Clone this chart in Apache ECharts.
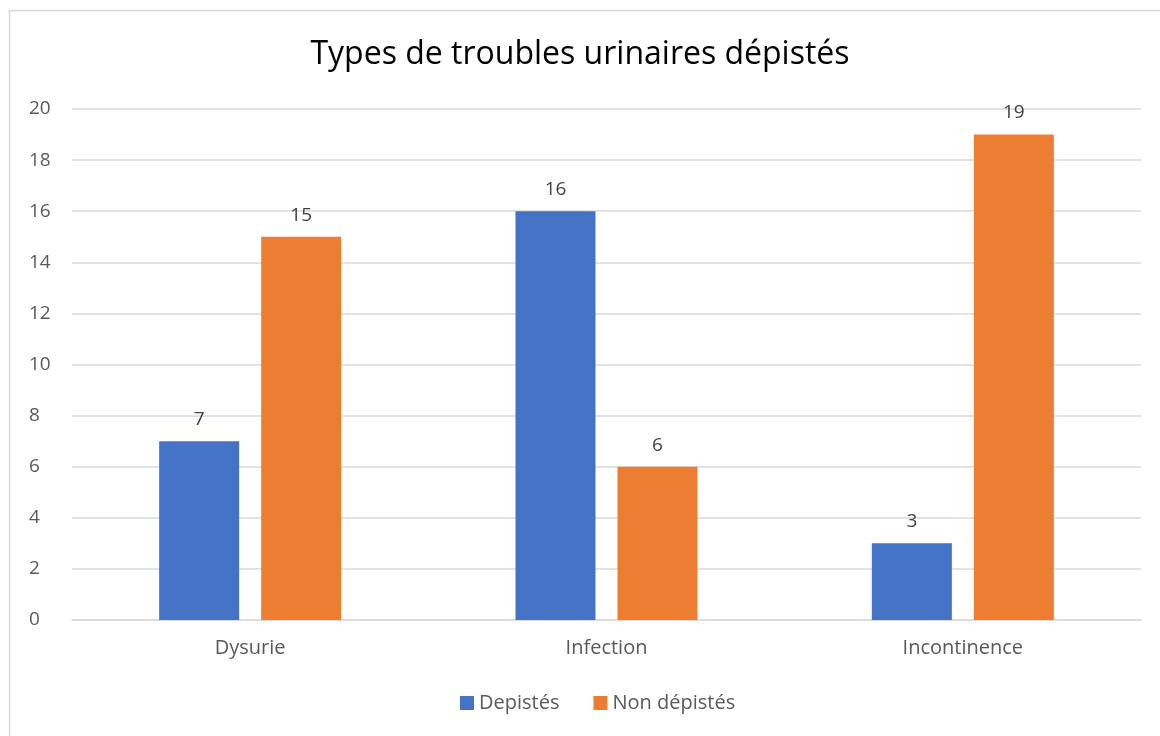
<!DOCTYPE html>
<html>
<head>
<meta charset="utf-8">
<script src="https://cdn.jsdelivr.net/npm/echarts@6/dist/echarts.min.js"></script>
<style>
  html, body { margin: 0; padding: 0; background: #fff; }
  #chart { width: 1160px; height: 736px; }
</style>
</head>
<body>
<div id="chart"></div>
<script>
// données
const categories = ['Dysurie', 'Infection', 'Incontinence']
const depistes = [7, 16, 3]
const nonDepistes = [15, 6, 19]
const yTicks = { min: 0, max: 20, interval: 2 }

const chart = echarts.init(document.getElementById('chart'))
const font = '"Open Sans", "Liberation Sans", sans-serif'

const option = {
  animation: false,
  textStyle: { fontFamily: font },
  graphic: [{
    type: 'rect',
    shape: { x: 9.5, y: 10.5, width: 1170, height: 760 },
    style: { fill: 'none', stroke: '#d9d9d9', lineWidth: 1.5 },
    silent: true
  }],
  title: {
    text: 'Types de troubles urinaires dépistés',
    left: 'center',
    top: 34,
    textStyle: { fontFamily: font, fontSize: 32, fontWeight: 'normal', color: '#000' }
  },
  legend: {
    bottom: 18,
    left: 455,
    itemWidth: 14,
    itemHeight: 14,
    itemGap: 34,
    icon: 'rect',
    textStyle: { fontFamily: font, fontSize: 20, color: '#595959' },
    data: ['Depistés', 'Non dépistés']
  },
  grid: { left: 72, right: 19, top: 109, bottom: 116 },
  xAxis: {
    type: 'category',
    data: categories,
    axisTick: { show: false },
    axisLine: { lineStyle: { color: '#d9d9d9', width: 1.5 } },
    axisLabel: { fontSize: 20, color: '#595959', margin: 18, fontFamily: font }
  },
  yAxis: {
    type: 'value',
    min: yTicks.min,
    max: yTicks.max,
    interval: yTicks.interval,
    axisLine: { show: false },
    axisTick: { show: false },
    axisLabel: { fontSize: 19, color: '#595959', margin: 43, align: 'left', fontFamily: font },
    splitLine: { lineStyle: { color: '#d9d9d9', width: 1.5 } }
  },
  series: [
    {
      name: 'Depistés',
      type: 'bar',
      data: depistes,
      barWidth: 80,
      barGap: '27.5%',
      itemStyle: { color: '#4472C4' },
      label: { show: true, position: 'top', distance: 12, fontSize: 19, color: '#404040', fontFamily: font }
    },
    {
      name: 'Non dépistés',
      type: 'bar',
      data: nonDepistes,
      barWidth: 80,
      itemStyle: { color: '#ED7D31' },
      label: { show: true, position: 'top', distance: 12, fontSize: 19, color: '#404040', fontFamily: font }
    }
  ]
}

chart.setOption(option)
</script>
</body>
</html>
